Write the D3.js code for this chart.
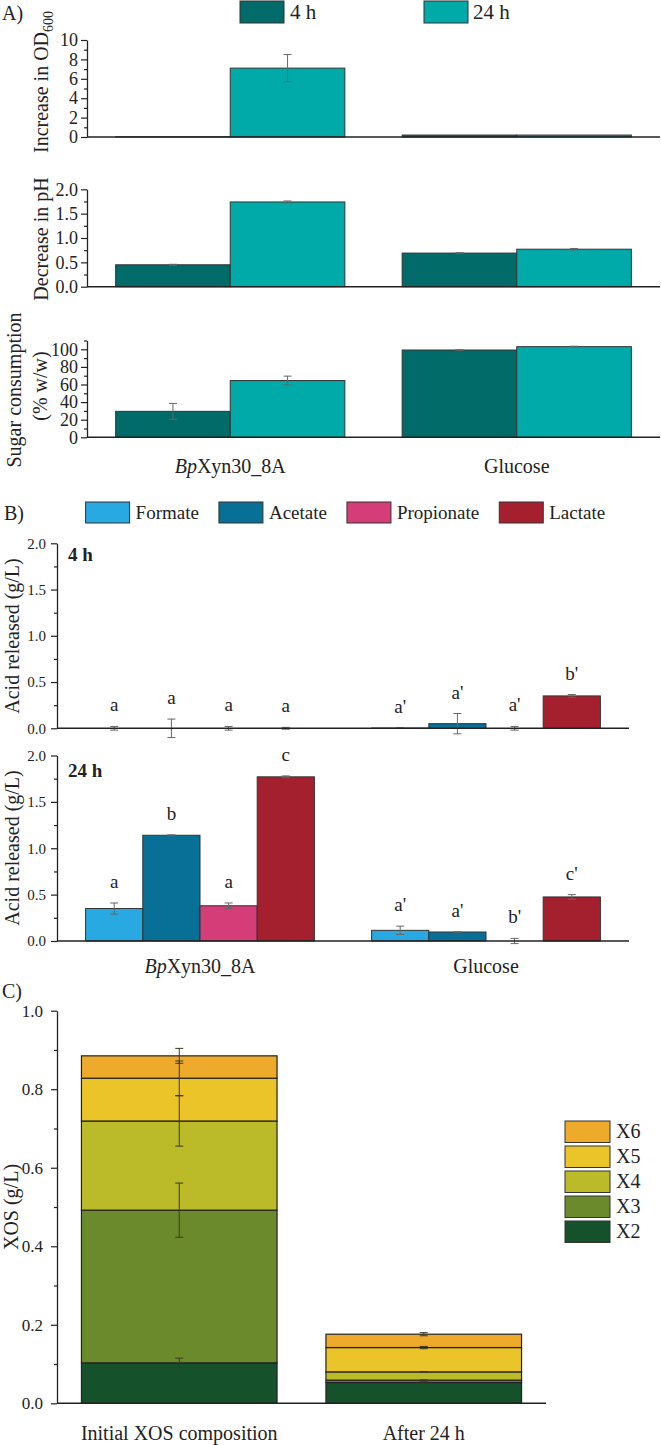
<!DOCTYPE html>
<html>
<head>
<meta charset="utf-8">
<title>Fermentation of BpXyn30_8A</title>
<script src="https://cdn.jsdelivr.net/npm/d3@7"></script>
<style>
  body { margin: 0; background: #fff; }
  svg text { font-family: "Liberation Serif", "Times New Roman", "DejaVu Serif", serif; }
</style>
</head>
<body>
<svg id="chart" width="661" height="1445" font-family="Liberation Serif, serif"></svg>
<script>
  // ---- data ----
  var groups = ["BpXyn30_8A", "Glucose"];

  // A) growth, pH and sugar, per time point, indexed by group
  var timeKeys = ["4 h", "24 h"];
  var timeColors = ["#006b69", "#00aaa9"];
  var od4 = [0.02, 0.2], od24 = [7.1, 0.2];
  var odErr4 = [0, 0], odErr24 = [1.4, 0];
  var ph4 = [0.45, 0.69], ph24 = [1.74, 0.77];
  var phErr4 = [0.01, 0.01], phErr24 = [0.02, 0.015];
  var sugar4 = [29.5, 99.2], sugar24 = [64.5, 103];
  var sugarErr4 = [9, 0.3], sugarErr24 = [5, 0.5];

  // B) acids, per group, indexed by acid
  var acids = ["Formate", "Acetate", "Propionate", "Lactate"];
  var acidColors = ["#29a9e1", "#086f96", "#d43d78", "#a5202e"];
  var acid4Bp = [0, 0, 0, 0], acid4Glc = [0.003, 0.05, 0, 0.35];
  var acid4BpErr = [0.02, 0.1, 0.02, 0.01], acid4GlcErr = [0.004, 0.11, 0.02, 0.015];
  var acid4BpLetters = ["a", "a", "a", "a"], acid4GlcLetters = ["a'", "a'", "a'", "b'"];
  var acid24Bp = [0.35, 1.14, 0.38, 1.77], acid24Glc = [0.115, 0.097, 0, 0.475];
  var acid24BpErr = [0.06, 0.005, 0.03, 0.01], acid24GlcErr = [0.045, 0.003, 0.028, 0.025];
  var acid24BpLetters = ["a", "b", "a", "c"], acid24GlcLetters = ["a'", "a'", "b'", "c'"];

  // C) XOS composition, stacked
  var xosCats = ["Initial XOS composition", "After 24 h"];
  var xosKeys = ["X2", "X3", "X4", "X5", "X6"];
  var xosColors = ["#15522b", "#6a8a2b", "#bbbb2a", "#ebc42a", "#eeaa2a"];
  var xosInitial = [0.103, 0.389, 0.227, 0.109, 0.057];
  var xosAfter = [0.053, 0.006, 0.021, 0.062, 0.034];
  var xosInitialErr = [0.012, 0.069, 0.064, 0.044, 0.019];
  var xosAfterErr = [0.002, 0.001, 0.001, 0.003, 0.004];

  var svg = d3.select("#chart");
  var ink = "#222";
  var serif = "Liberation Serif, Times New Roman, DejaVu Serif, serif";

  function label(x, y, str, size, opts) {
    opts = opts || {};
    return svg.append("text")
      .attr("x", x).attr("y", y)
      .attr("font-family", serif)
      .attr("font-size", size)
      .attr("font-weight", opts.bold ? "bold" : null)
      .attr("text-anchor", opts.anchor || "start")
      .attr("fill", ink)
      .text(str);
  }

  function yTitle(cx, cy, str, size) {
    return svg.append("text")
      .attr("transform", "translate(" + cx + "," + cy + ") rotate(-90)")
      .attr("text-anchor", "middle")
      .attr("dy", "0.35em")
      .attr("font-family", serif)
      .attr("font-size", size)
      .attr("fill", ink)
      .text(str);
  }

  function yAxis(y, x0, major, minor, fmt, size, pad) {
    var gm = svg.append("g").attr("transform", "translate(" + x0 + ",0)")
      .call(d3.axisLeft(y).tickValues(minor).tickSize(3).tickSizeOuter(0).tickFormat(""));
    gm.select(".domain").remove();
    var g = svg.append("g").attr("transform", "translate(" + x0 + ",0)")
      .call(d3.axisLeft(y).tickValues(major).tickSize(6).tickSizeOuter(0).tickPadding(pad).tickFormat(fmt));
    [gm, g].forEach(function(s) {
      s.attr("font-family", serif);
      s.selectAll("line").attr("stroke", ink).attr("stroke-width", 1.2);
    });
    g.select(".domain").attr("stroke", ink).attr("stroke-width", 1.3);
    g.selectAll("text").attr("font-size", size).attr("fill", ink);
  }

  function xLine(y, xr) {
    svg.append("line")
      .attr("x1", xr[0]).attr("x2", xr[1])
      .attr("y1", y(0)).attr("y2", y(0))
      .attr("stroke", ink).attr("stroke-width", 1.4);
  }

  function errBars(g, data, cx, top, lo, hw, color) {
    var e = g.selectAll(null).data(data.filter(function(d) { return d.e > 0; })).enter().append("g")
      .attr("stroke", color).attr("stroke-width", 1);
    e.append("line").attr("x1", cx).attr("x2", cx).attr("y1", top).attr("y2", lo);
    e.append("line").attr("x1", function(d) { return cx(d) - hw; }).attr("x2", function(d) { return cx(d) + hw; })
      .attr("y1", top).attr("y2", top);
    e.append("line").attr("x1", function(d) { return cx(d) - hw; }).attr("x2", function(d) { return cx(d) + hw; })
      .attr("y1", lo).attr("y2", lo);
  }

  // grouped bars: rows = [{group, key, ki, v, e, letter}]
  function groupedBars(rows, keys, colors, y, xr, letterSize) {
    var x0 = d3.scaleBand().domain(groups).range(xr).paddingInner(0.2).paddingOuter(0.1);
    var x1 = d3.scaleBand().domain(keys).range([0, x0.bandwidth()]);
    var g = svg.append("g");
    g.selectAll("rect").data(rows).join("rect")
      .attr("x", function(d) { return x0(d.group) + x1(d.key); })
      .attr("y", function(d) { return y(Math.max(0, d.v)); })
      .attr("width", x1.bandwidth())
      .attr("height", function(d) { return Math.abs(y(0) - y(d.v)); })
      .attr("fill", function(d) { return colors[d.ki]; })
      .attr("stroke", "#333").attr("stroke-width", 1);
    var cx = function(d) { return x0(d.group) + x1(d.key) + x1.bandwidth() / 2; };
    errBars(g, rows, cx,
      function(d) { return y(d.v + d.e); },
      function(d) { return y(d.v - d.e); }, 4, "#666");
    if (letterSize) {
      g.selectAll("text.sig").data(rows).join("text")
        .attr("class", "sig")
        .attr("x", cx)
        .attr("y", function(d) { return y(d.v + d.e) - 15; })
        .attr("text-anchor", "middle")
        .attr("font-family", serif)
        .attr("font-size", letterSize)
        .attr("fill", ink)
        .text(function(d) { return d.letter; });
    }
    xLine(y, xr);
    return x0;
  }

  function groupLabels(x0, yBase, size) {
    groups.forEach(function(gname) {
      var t = svg.append("text")
        .attr("x", x0(gname) + x0.bandwidth() / 2)
        .attr("y", yBase)
        .attr("text-anchor", "middle")
        .attr("font-family", serif)
        .attr("font-size", size)
        .attr("fill", ink);
      if (gname.indexOf("Bp") === 0) {
        t.append("tspan").attr("font-style", "italic").text("Bp");
        t.append("tspan").text(gname.slice(2));
      } else {
        t.text(gname);
      }
    });
  }

  function timeRows(m4, m24, e4, e24) {
    var out = [];
    groups.forEach(function(gname, gi) {
      out.push({group: gname, key: timeKeys[0], ki: 0, v: m4[gi], e: e4[gi]});
      out.push({group: gname, key: timeKeys[1], ki: 1, v: m24[gi], e: e24[gi]});
    });
    return out;
  }

  function acidRows(perGroup, perGroupErr, perGroupLetters) {
    var out = [];
    groups.forEach(function(gname, gi) {
      acids.forEach(function(a, ai) {
        out.push({group: gname, key: a, ki: ai, v: perGroup[gi][ai], e: perGroupErr[gi][ai], letter: perGroupLetters[gi][ai]});
      });
    });
    return out;
  }

  // ================= Panel A =================
  label(2, 20, "A)", 20);
  var legA = [{x: 240, tx: 290}, {x: 424, tx: 473}];
  timeKeys.forEach(function(k, i) {
    svg.append("rect").attr("x", legA[i].x).attr("y", 1).attr("width", 44).attr("height", 22)
      .attr("fill", timeColors[i]).attr("stroke", "#333").attr("stroke-width", 1);
    label(legA[i].tx, 19, k, 21);
  });

  var xrA = [87, 660];
  var yOd = d3.scaleLinear().domain([0, 10]).range([137, 40]);
  groupedBars(timeRows(od4, od24, odErr4, odErr24), timeKeys, timeColors, yOd, xrA);
  yAxis(yOd, xrA[0], d3.range(0, 10.1, 2), d3.range(1, 10, 2), d3.format("d"), 18, 3);
  var odT = yTitle(41, 82, "Increase in OD", 20);
  odT.append("tspan").attr("font-size", 14).attr("dy", 5).text("600");

  var yPh = d3.scaleLinear().domain([0, 2]).range([286.7, 189.3]);
  groupedBars(timeRows(ph4, ph24, phErr4, phErr24), timeKeys, timeColors, yPh, xrA);
  yAxis(yPh, xrA[0], d3.range(0, 2.01, 0.5), d3.range(0.25, 2, 0.5), d3.format(".1f"), 18, 3);
  yTitle(41, 239, "Decrease in pH", 20);

  var ySugar = d3.scaleLinear().domain([0, 110]).range([437.3, 340.5]);
  var x0A = groupedBars(timeRows(sugar4, sugar24, sugarErr4, sugarErr24), timeKeys, timeColors, ySugar, xrA);
  yAxis(ySugar, xrA[0], d3.range(0, 101, 20), d3.range(10, 111, 20), d3.format("d"), 18, 3);
  yTitle(14, 390, "Sugar consumption", 20);
  yTitle(40, 386, "(% w/w)", 20);
  groupLabels(x0A, 473, 20);

  // ================= Panel B =================
  label(4, 520, "B)", 20);
  var lx = 85.6;
  acids.forEach(function(a, i) {
    svg.append("rect").attr("x", lx).attr("y", 502).attr("width", 44).attr("height", 21)
      .attr("fill", acidColors[i]).attr("stroke", "#333").attr("stroke-width", 1);
    var t = label(lx + 50, 519, a, 19);
    lx += 50 + t.node().getComputedTextLength() + 20;
  });

  var xrB = [57, 629];
  var yB1 = d3.scaleLinear().domain([0, 2]).range([728.3, 543.3]);
  groupedBars(acidRows([acid4Bp, acid4Glc], [acid4BpErr, acid4GlcErr], [acid4BpLetters, acid4GlcLetters]),
    acids, acidColors, yB1, xrB, 19);
  yAxis(yB1, xrB[0], d3.range(0, 2.01, 0.5), d3.range(0.25, 2, 0.5), d3.format(".1f"), 15, 5);
  yTitle(12, 636, "Acid released (g/L)", 20);
  label(68, 561, "4 h", 19, {bold: true});

  var yB2 = d3.scaleLinear().domain([0, 2]).range([941, 755.5]);
  var x0B = groupedBars(acidRows([acid24Bp, acid24Glc], [acid24BpErr, acid24GlcErr], [acid24BpLetters, acid24GlcLetters]),
    acids, acidColors, yB2, xrB, 19);
  yAxis(yB2, xrB[0], d3.range(0, 2.01, 0.5), d3.range(0.25, 2, 0.5), d3.format(".1f"), 15, 5);
  yTitle(12, 848, "Acid released (g/L)", 20);
  label(68, 777, "24 h", 19, {bold: true});
  groupLabels(x0B, 973, 20);

  // ================= Panel C =================
  label(2, 998, "C)", 20);
  var xrC = [57, 546];
  var yC = d3.scaleLinear().domain([0, 1]).range([1403.3, 1010.7]);
  var xC = d3.scaleBand().domain(xosCats).range(xrC).paddingInner(0.2).paddingOuter(0.1);
  var xosVals = [xosInitial, xosAfter], xosErrs = [xosInitialErr, xosAfterErr];
  var stackRows = xosCats.map(function(c, i) {
    var r = {cat: c};
    xosKeys.forEach(function(k, j) { r[k] = xosVals[i][j]; });
    return r;
  });
  var series = d3.stack().keys(xosKeys)(stackRows);

  var gC = svg.append("g");
  gC.selectAll("g.layer").data(series).join("g")
    .attr("class", "layer")
    .attr("fill", function(s, i) { return xosColors[i]; })
    .selectAll("rect").data(function(s) { return s; }).join("rect")
      .attr("x", function(d) { return xC(d.data.cat); })
      .attr("y", function(d) { return yC(d[1]); })
      .attr("width", xC.bandwidth())
      .attr("height", function(d) { return yC(d[0]) - yC(d[1]); })
      .attr("stroke", "#222").attr("stroke-width", 1.2);

  var errRows = [];
  series.forEach(function(s, j) {
    s.forEach(function(d, i) {
      errRows.push({cat: d.data.cat, top: d[1], e: xosErrs[i][j]});
    });
  });
  errBars(gC, errRows, function(d) { return xC(d.cat) + xC.bandwidth() / 2; },
    function(d) { return yC(d.top + d.e); },
    function(d) { return yC(d.top - d.e); }, 4, "#3a3a2a");

  xLine(yC, xrC);
  yAxis(yC, xrC[0], d3.range(0, 1.01, 0.2), d3.range(0.1, 1, 0.2), d3.format(".1f"), 17, 8);
  yTitle(11, 1207, "XOS (g/L)", 20);
  xosCats.forEach(function(c) {
    label(xC(c) + xC.bandwidth() / 2, 1440, c, 20, {anchor: "middle"});
  });

  // legend, X6 on top
  xosKeys.slice().reverse().forEach(function(k, i) {
    var j = xosKeys.indexOf(k);
    svg.append("rect").attr("x", 565).attr("y", 1121 + i * 25).attr("width", 45).attr("height", 21.5)
      .attr("fill", xosColors[j]).attr("stroke", "#333").attr("stroke-width", 1);
    label(616, 1138 + i * 25, k, 20);
  });
</script>
</body>
</html>
